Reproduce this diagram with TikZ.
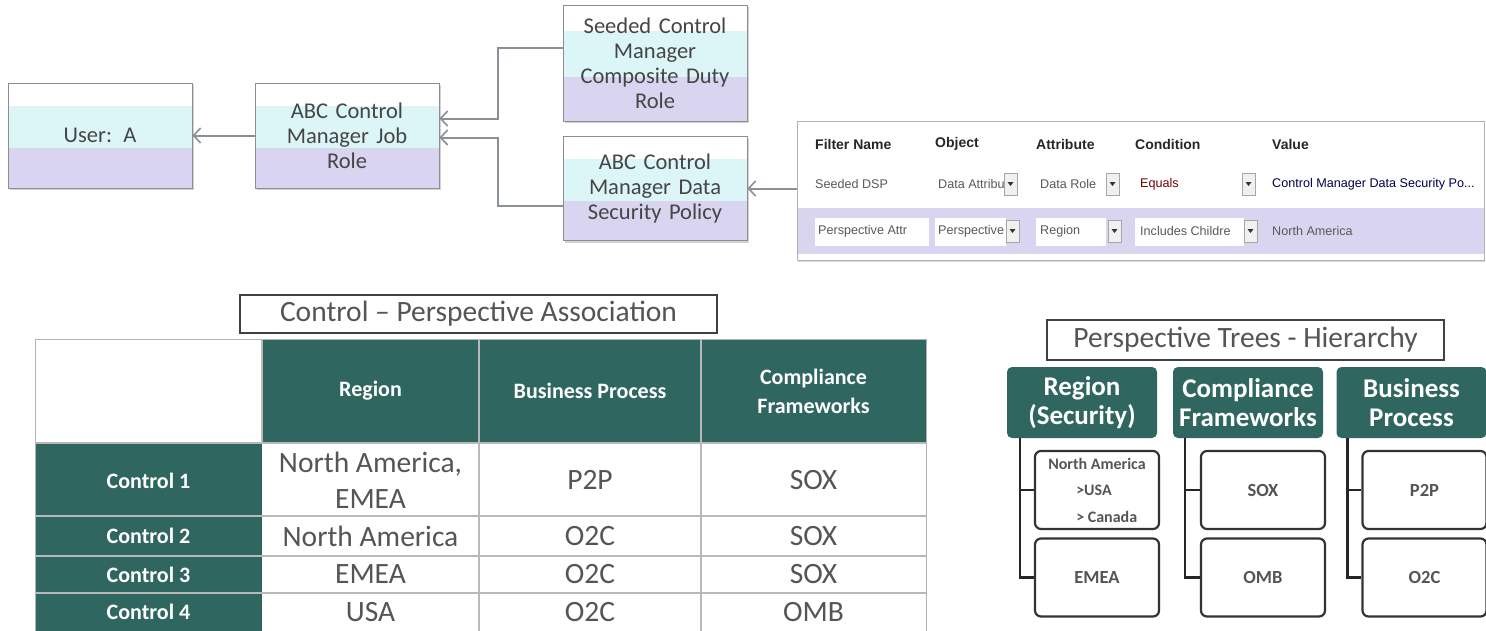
\documentclass[tikz,border=0pt]{standalone}
\usepackage{fontspec}
\setmainfont{Carlito}
\newfontfamily\arialf{Liberation Sans}
\usetikzlibrary{arrows.meta,shadows,calc}
\definecolor{tealc}{HTML}{2F6660}
\definecolor{cyanb}{HTML}{DCF6F8}
\definecolor{lavb}{HTML}{D9D5F1}
\definecolor{boxborder}{HTML}{8E8E8E}
\definecolor{txt}{HTML}{454545}
\definecolor{connc}{HTML}{8A9098}
\definecolor{celltxt}{HTML}{555555}
\newcommand\ddbtn[2]{%
  \draw[gray!70, fill=gray!12] (#1,#2-11) rectangle ++(13,22);
  \fill[black!80] (#1+3.5,#2-2) -- ++(6,0) -- ++(-3,4) -- cycle;}
\begin{document}
\begin{tikzpicture}[x=1pt,y=-1pt,
  rolebox/.style={draw=boxborder, line width=1pt, fill=white, minimum width=184pt,
    text width=176pt, inner sep=4pt, align=center,
    font=\fontsize{22.5}{25}\selectfont, text=txt,
    drop shadow={shadow xshift=2pt,shadow yshift=-2pt,opacity=0.35},
    path picture={
      \fill[cyanb] ($(path picture bounding box.north west)!0.22!(path picture bounding box.south west)$) rectangle ($(path picture bounding box.north east)!0.62!(path picture bounding box.south east)$);
      \fill[lavb] ($(path picture bounding box.north west)!0.62!(path picture bounding box.south west)$) rectangle (path picture bounding box.south east);
    }},
  conn/.style={draw=connc, line width=2pt, -{Straight Barb[length=7pt,width=15pt,line width=1.6pt]}},
  phdr/.style={anchor=west, font=\arialf\bfseries\fontsize{14}{16}\selectfont, text=black!85, inner sep=0},
  prow/.style={anchor=west, font=\arialf\fontsize{12.6}{14}\selectfont, text=black!65, inner sep=0},
  titlebox/.style={draw=black!75, line width=1.2pt, fill=white, font=\fontsize{29.5}{32}\selectfont, text=celltxt, inner sep=0},
  thdr/.style={text=white, font=\bfseries\fontsize{22}{29}\selectfont, align=center},
  tlbl/.style={text=white, font=\bfseries\fontsize{22}{24}\selectfont},
  tcell/.style={text=celltxt, font=\fontsize{29.5}{36}\selectfont, align=center},
  hbox/.style={fill=tealc, rounded corners=5pt, minimum width=150pt, minimum height=71pt,
    text=white, font=\bfseries\fontsize{27}{29}\selectfont, align=center, inner sep=0},
  cbox/.style={draw=black!80, line width=2.2pt, rounded corners=6pt, fill=white,
    minimum width=124pt, minimum height=78pt, text=celltxt, font=\bfseries\fontsize{18.5}{22}\selectfont, inner sep=0},
  treeline/.style={draw=black!85, line width=2.5pt}
]
\useasboundingbox (0,0) rectangle (1486,630);
\fill[white] (0,0) rectangle (1486,630);

% ---------- role boxes ----------
\node[rolebox, minimum height=105pt] (user) at (100,135.5) {User: A};
\node[rolebox, minimum height=105pt] (job) at (347,135.5) {ABC Control\\Manager Job\\Role};
\node[rolebox, minimum height=116pt] (seeded) at (655,63) {Seeded Control\\Manager\\Composite Duty\\Role};
\node[rolebox, minimum height=104pt] (dsp) at (655,188.5) {ABC Control\\Manager Data\\Security Policy};

% ---------- filter panel ----------
\node[draw=gray!60, fill=white, minimum width=687pt, minimum height=139pt, inner sep=0,
  drop shadow={shadow xshift=1pt,shadow yshift=-2pt,opacity=0.3}] (panel) at (1140.5,190.5) {};
\fill[lavb] (798,208) rectangle (1483.5,254);
\node[phdr] (hfn) at (815,144) {Filter Name};
\node[phdr] (hobj) at (935,144) {Object};
\node[phdr] (hatt) at (1036,144) {Attribute};
\node[phdr] (hcond) at (1135,144) {Condition};
\node[phdr] (hval) at (1272,144) {Value};
% row 1
\node[prow] (r1a) at (815,184) {Seeded DSP};
\node[prow] (r1b) at (938,184) {Data Attribu};
\ddbtn{1004}{184}
\node[prow] (r1c) at (1040,184) {Data Role};
\ddbtn{1106}{184}
\node[prow, text=red!45!black] (r1d) at (1140,184) {Equals};
\ddbtn{1242}{184}
\node[prow, text=black!70!blue] (r1e) at (1272,184) {Control Manager Data Security Po...};
% row 2
\fill[white] (815,218) rectangle (929,246);
\fill[white] (935,218) rectangle (1006,246);
\fill[white] (1036,218) rectangle (1106,246);
\fill[white] (1135,218) rectangle (1244,246);
\node[prow] (r2a) at (818,231) {Perspective Attr};
\node[prow] (r2b) at (938,231) {Perspective};
\ddbtn{1006}{231}
\node[prow] (r2c) at (1040,231) {Region};
\ddbtn{1108}{231}
\node[prow] (r2d) at (1140,231) {Includes Childre};
\ddbtn{1244}{231}
\node[prow] (r2e) at (1272,231) {North America};

% ---------- connectors ----------
\draw[conn] (job.west) -- (user.east);
\draw[conn] ([yshift=15pt]seeded.west) -- ++(-65,0) |- ([yshift=17pt]job.east);
\draw[conn] ([yshift=-17pt]dsp.west) -- ++(-65,0) |- ([yshift=-2pt]job.east);
\draw[conn] (panel.west |- dsp.east) -- (dsp.east);

% ---------- control table ----------
\node[titlebox, minimum width=477pt, minimum height=38pt] (cpa) at (478.5,314) {Control -- Perspective Association};
\fill[tealc] (262,339) rectangle (926,443);
\fill[tealc] (35,443) rectangle (262,632);
\draw[gray!60, line width=1pt] (35,339) -- (926,339) -- (926,632);
\draw[gray!60, line width=1pt] (35,339) -- (35,632);
\foreach \yy in {443,516,556,593} \draw[gray!55, line width=1.2pt] (35,\yy) -- (926,\yy);
\foreach \xx in {479,701} \draw[gray!55, line width=1.2pt] (\xx,339) -- (\xx,632);
\draw[gray!55, line width=1.2pt] (262,339) -- (262,443);
\node[thdr] (th1) at (370.5,391) {Region};
\node[thdr] (th2) at (590,391) {Business Process};
\node[thdr] (th3) at (813.5,391) {Compliance\\Frameworks};
\node[tlbl] (c1) at (148.5,481) {Control 1};
\node[tlbl] (c2) at (148.5,536) {Control 2};
\node[tlbl] (c3) at (148.5,574.5) {Control 3};
\node[tlbl] (c4) at (148.5,612) {Control 4};
\node[tcell] (c1a) at (370.5,480) {North America,\\EMEA};
\node[tcell] (c1b) at (590,480) {P2P};
\node[tcell] (c1c) at (813.5,480) {SOX};
\node[tcell] (c2a) at (370.5,536) {North America};
\node[tcell] (c2b) at (590,536) {O2C};
\node[tcell] (c2c) at (813.5,536) {SOX};
\node[tcell] (c3a) at (370.5,574.5) {EMEA};
\node[tcell] (c3b) at (590,574.5) {O2C};
\node[tcell] (c3c) at (813.5,574.5) {SOX};
\node[tcell] (c4a) at (370.5,612) {USA};
\node[tcell] (c4b) at (590,612) {O2C};
\node[tcell] (c4c) at (813.5,612) {OMB};

% ---------- perspective trees ----------
\node[titlebox, minimum width=397pt, minimum height=40pt] (ptt) at (1245.5,340) {Perspective Trees - Hierarchy};
\node[hbox] (reg) at (1082,402.5) {Region\\(Security)};
\node[hbox] (cf) at (1248,402.5) {Compliance\\Frameworks};
\node[hbox] (bp) at (1411.5,402.5) {Business\\Process};

\node[cbox, align=left, font=\bfseries\fontsize{16}{26.5}\selectfont] (na) at (1097,490) {North America\\\hspace*{28pt}>USA\\\hspace*{28pt}> Canada};
\node[cbox] (emea) at (1097,577.5) {EMEA};
\node[cbox] (sox) at (1263,490) {SOX};
\node[cbox] (omb) at (1263,577.5) {OMB};
\node[cbox] (p2p) at (1424.5,490) {P2P};
\node[cbox] (o2c) at (1424.5,577.5) {O2C};

\draw[treeline] ([xshift=13pt]reg.south west) |- (na.west);
\draw[treeline] ([xshift=13pt]reg.south west) |- (emea.west);
\draw[treeline] ([xshift=12pt]cf.south west) |- (sox.west);
\draw[treeline] ([xshift=12pt]cf.south west) |- (omb.west);
\draw[treeline] ([xshift=11pt]bp.south west) |- (p2p.west);
\draw[treeline] ([xshift=11pt]bp.south west) |- (o2c.west);
\end{tikzpicture}
\end{document}
